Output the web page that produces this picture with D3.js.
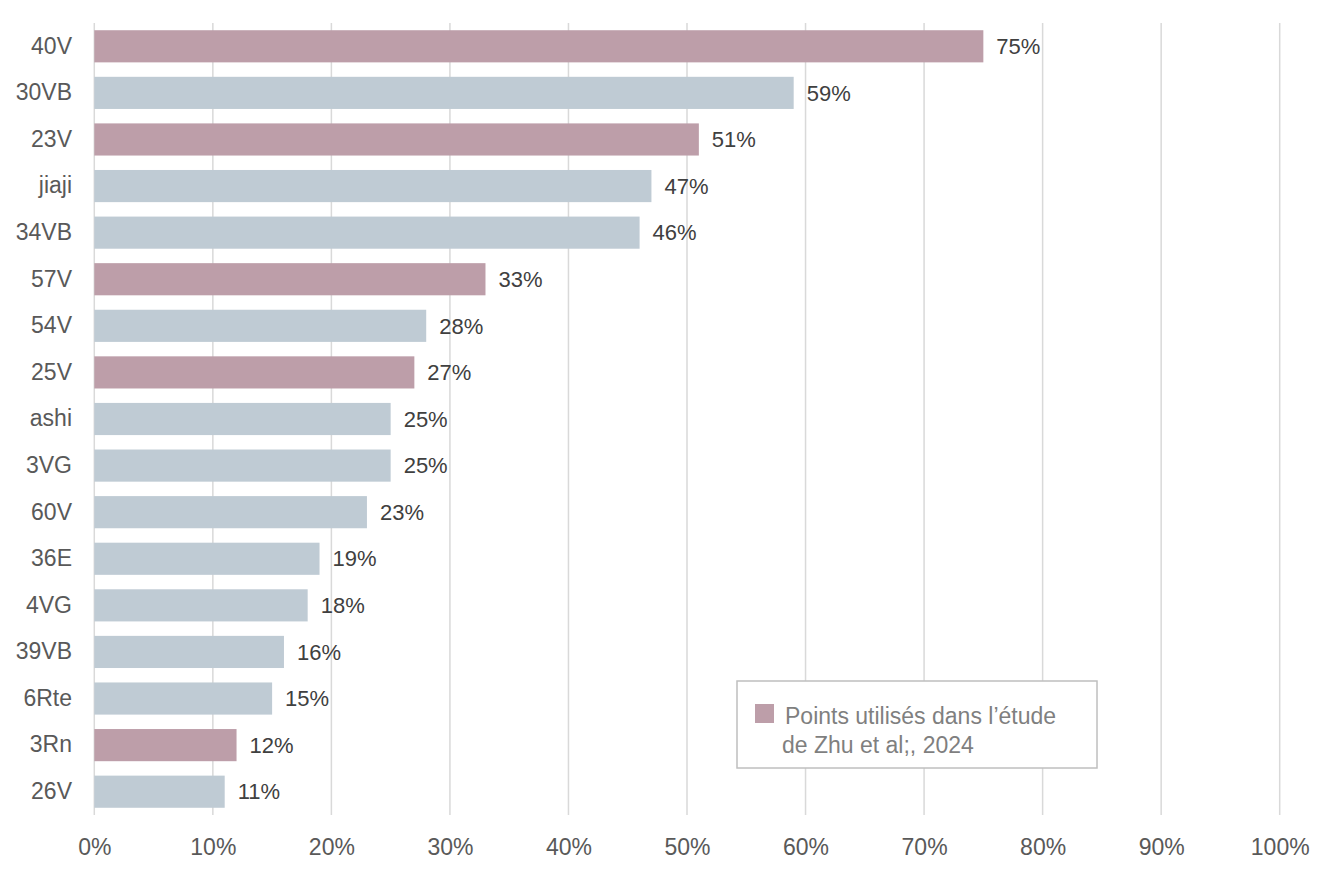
<!DOCTYPE html>
<html>
<head>
<meta charset="utf-8">
<script src="https://cdn.jsdelivr.net/npm/d3@7"></script>
<style>
  body { margin: 0; background: #fff; }
  text { font-family: "Liberation Sans", Arial, sans-serif; }
</style>
</head>
<body>
<svg id="drawing_region"></svg>
<script>
// data
const categories = ['40V','30VB','23V','jiaji','34VB','57V','54V','25V','ashi','3VG','60V','36E','4VG','39VB','6Rte','3Rn','26V'];
const values     = [0.75, 0.59, 0.51, 0.47, 0.46, 0.33, 0.28, 0.27, 0.25, 0.25, 0.23, 0.19, 0.18, 0.16, 0.15, 0.12, 0.11];
const inStudy    = ['40V','23V','57V','25V','3Rn'];
const xTicks     = [0, 0.1, 0.2, 0.3, 0.4, 0.5, 0.6, 0.7, 0.8, 0.9, 1.0];
const legendLines = ['Points utilisés dans l\u2019étude', 'de Zhu et al;, 2024'];

const data = categories.map((c, i) => ({ name: c, value: values[i], study: inStudy.includes(c) }));

const config = {
    width: 1334,
    height: 873,
    margin: {top: 23, right: 54, bottom: 58, left: 94}
};

const svg = d3.select('#drawing_region')
    .attr('width', config.width)
    .attr('height', config.height);

const inner_width = config.width - config.margin.left - config.margin.right;
const inner_height = config.height - config.margin.top - config.margin.bottom;

const chart = svg.append('g')
    .attr('transform', `translate(${config.margin.left}, ${config.margin.top})`);

const xscale = d3.scaleLinear()
    .domain([0, 1])
    .range([0.3, inner_width - 0.3]);

const yscale = d3.scaleBand()
    .domain(categories)
    .range([0, inner_height])
    .paddingInner(0.31)
    .paddingOuter(0.155);

// grid lines
chart.append('g')
    .selectAll('line')
    .data(xTicks)
    .join('line')
    .attr('x1', d => xscale(d))
    .attr('x2', d => xscale(d))
    .attr('y1', 0)
    .attr('y2', inner_height)
    .attr('stroke', '#d9d9d9')
    .attr('stroke-width', 1.5);

// bars
chart.append('g')
    .selectAll('rect')
    .data(data)
    .join('rect')
    .attr('x', xscale(0))
    .attr('y', d => yscale(d.name))
    .attr('width', d => xscale(d.value) - xscale(0))
    .attr('height', yscale.bandwidth())
    .attr('fill', d => d.study ? '#bd9ea9' : '#bfcbd4');

// value labels
chart.append('g')
    .selectAll('text')
    .data(data)
    .join('text')
    .attr('x', d => xscale(d.value) + 13)
    .attr('y', d => yscale(d.name) + yscale.bandwidth() / 2)
    .attr('dy', '0.35em')
    .attr('fill', '#404040')
    .attr('font-size', '22px')
    .text(d => Math.round(d.value * 100) + '%');

// y axis
const yaxis = d3.axisLeft(yscale).tickSize(0).tickPadding(22);
const yaxis_group = chart.append('g').call(yaxis);
yaxis_group.select('.domain').remove();
yaxis_group.selectAll('text')
    .attr('fill', '#595959')
    .attr('font-size', '23px')
    .attr('font-family', '"Liberation Sans", Arial, sans-serif');

// x axis
const xaxis = d3.axisBottom(xscale)
    .tickValues(xTicks)
    .tickFormat(d3.format('.0%'))
    .tickSize(0)
    .tickPadding(24);
const xaxis_group = chart.append('g')
    .attr('transform', `translate(0, ${inner_height})`)
    .call(xaxis);
xaxis_group.select('.domain').remove();
xaxis_group.selectAll('text')
    .attr('fill', '#595959')
    .attr('font-size', '23px')
    .attr('font-family', '"Liberation Sans", Arial, sans-serif');

// legend
const legend = svg.append('g')
    .attr('transform', 'translate(737, 681)');

legend.append('rect')
    .attr('width', 360)
    .attr('height', 87)
    .attr('fill', '#fff')
    .attr('stroke', '#bfbfbf')
    .attr('stroke-width', 1.5);

legend.append('rect')
    .attr('x', 18)
    .attr('y', 23)
    .attr('width', 19)
    .attr('height', 19)
    .attr('fill', '#bd9ea9');

legend.append('text')
    .attr('fill', '#7f7f7f')
    .attr('font-size', '23px')
    .selectAll('tspan')
    .data(legendLines)
    .join('tspan')
    .attr('x', (d, i) => i === 0 ? 48 : 45)
    .attr('y', (d, i) => 43 + i * 29)
    .text(d => d);
</script>
</body>
</html>
